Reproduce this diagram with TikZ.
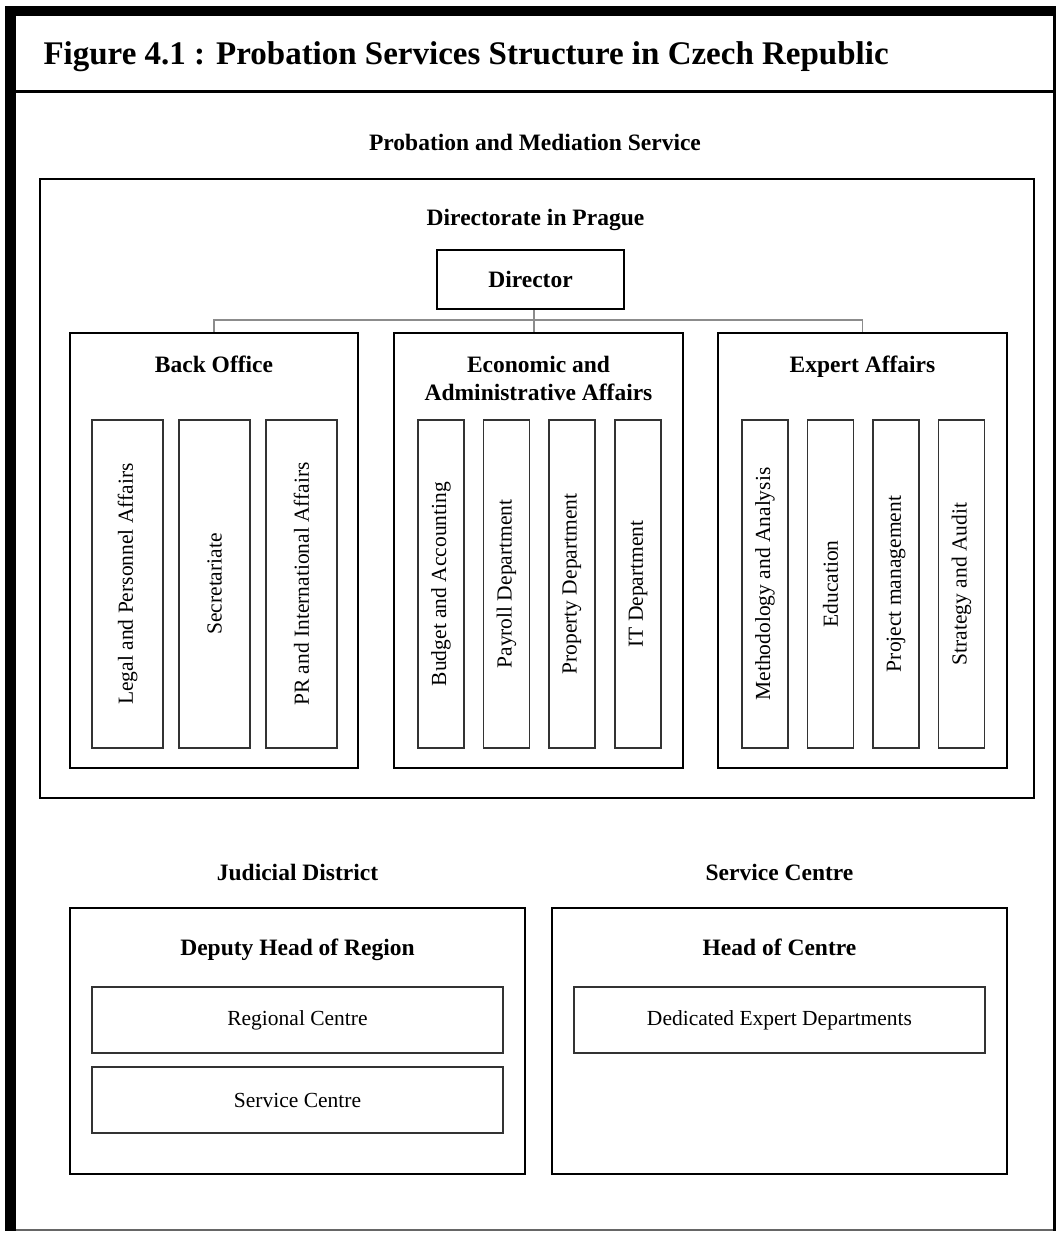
\documentclass[tikz,border=0pt]{standalone}
\usepackage{fontspec}
\setmainfont{Liberation Serif}
\usepackage{tikz}
\usetikzlibrary{positioning}
\newcommand{\lblfont}{\fontsize{23.5}{28}\selectfont\bfseries}
\newcommand{\deptfont}{\fontsize{21.5}{25}\selectfont}
\newcommand{\ttlfont}{\fontsize{33}{38}\selectfont\bfseries}
\tikzset{
  unitbox/.style={draw,line width=2.5pt,inner sep=0pt},
  deptbox/.style={draw=black!80,line width=1.2pt,inner sep=0pt},
  vdept/.style={deptbox,rotate=90,minimum width=328pt,font=\deptfont},
  hdept/.style={deptbox,minimum width=411pt,minimum height=66pt,font=\deptfont},
  headtext/.style={font=\lblfont,align=center,text depth=0.22em},
  link/.style={draw=black!45,line width=1.5pt},
}

\begin{document}
\begin{tikzpicture}[x=1pt,y=-1pt]
  \useasboundingbox (0,0) rectangle (1056,1234);
  % frame
  \fill (5,6) rectangle (16,1231);
  \fill (5,6) rectangle (1056,16);
  \fill (1053,6) rectangle (1056,1231);
  \draw[black!60,line width=1.5pt] (16,1230) -- (1053,1230);
  \draw[line width=3pt] (16,91.5) -- (1053,91.5);
  \node[anchor=west,font=\ttlfont] (title) at (40,57) {Figure 4.1 : Probation Services Structure in Czech Republic};
  % the service and its directorate
  \node[headtext] (service) at (535,143) {Probation and Mediation Service};
  \node[unitbox,line width=2pt,minimum width=994pt,minimum height=619pt] (directorate) at (537,488.5) {};
  \node[headtext] (prague) at (535.5,218) {Directorate in Prague};
  \node[unitbox,minimum width=187pt,minimum height=59pt,font=\lblfont] (dir) at (530.5,279.5) {Director};
  % the three branches
  \node[unitbox,minimum width=288pt,minimum height=435pt] (backoff) at (214,550.5) {};
  \node[unitbox,minimum width=289pt,minimum height=435pt] (eco) at (538.5,550.5) {};
  \node[unitbox,minimum width=289pt,minimum height=435pt] (expert) at (862.5,550.5) {};
  \node[headtext] (backofflbl) at (214,365) {Back Office};
  \node[headtext] (ecolbl) at (538.5,379) {Economic and\\Administrative Affairs};
  \node[headtext] (expertlbl) at (862.5,365) {Expert Affairs};
  % links from the director
  \coordinate (bus) at (534,320);
  \draw[link] (bus |- dir.south) -- (bus |- eco.north);
  \draw[link] (backoff.north) |- (bus) -| (expert.north);
  % departments
  \foreach \n/\x/\t in {legal/127.5/Legal and Personnel Affairs, secr/214.5/Secretariate, pr/301.5/PR and International Affairs}
    \node[vdept,minimum height=71pt] (\n) at (\x,584) {\t};
  \foreach \n/\x/\t in {budget/441/Budget and Accounting, payroll/506.5/Payroll Department, property/572/Property Department, itdep/638/IT Department}
    \node[vdept,minimum height=46pt] (\n) at (\x,584) {\t};
  \foreach \n/\x/\t in {method/765/Methodology and Analysis, educ/830.5/Education, projman/896/Project management, strat/961.5/Strategy and Audit}
    \node[vdept,minimum height=46pt] (\n) at (\x,584) {\t};
  % regional level
  \node[headtext] (districtlbl) at (297.5,873) {Judicial District};
  \node[headtext] (centrelbl) at (779.5,873) {Service Centre};
  \node[unitbox,minimum width=455pt,minimum height=266pt] (district) at (297.5,1041) {};
  \node[unitbox,minimum width=455pt,minimum height=266pt] (centre) at (779.5,1041) {};
  \node[headtext] (deputy) at (297.5,948) {Deputy Head of Region};
  \node[headtext] (headc) at (779.5,948) {Head of Centre};
  \node[hdept] (regional) at (297.5,1020) {Regional Centre};
  \node[hdept] (servc) at (297.5,1100) {Service Centre};
  \node[hdept] (dedic) at (779.5,1020) {Dedicated Expert Departments};
\end{tikzpicture}
\end{document}
